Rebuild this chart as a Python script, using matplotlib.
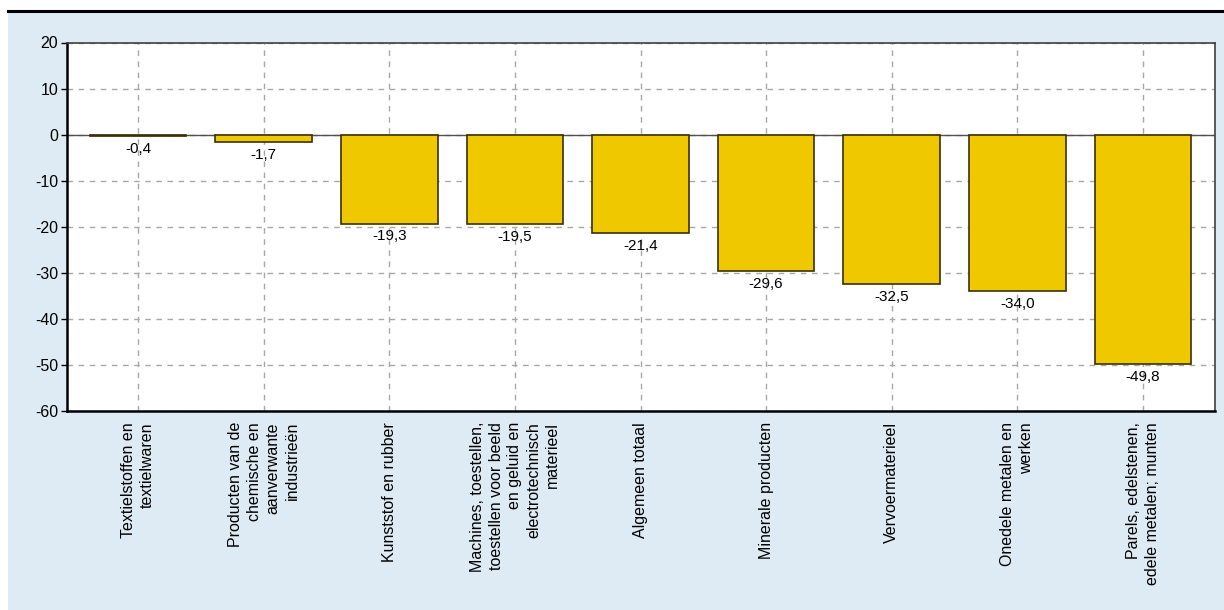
import matplotlib
matplotlib.use("Agg")
import matplotlib.pyplot as plt
from matplotlib.patches import Rectangle
from matplotlib.lines import Line2D

categories = [
    "Textielstoffen en\ntextielwaren",
    "Producten van de\nchemische en\naanverwante\nindustrieën",
    "Kunststof en rubber",
    "Machines, toestellen,\ntoestellen voor beeld\nen geluid en\nelectrotechnisch\nmaterieel",
    "Algemeen totaal",
    "Minerale producten",
    "Vervoermaterieel",
    "Onedele metalen en\nwerken",
    "Parels, edelstenen,\nedele metalen; munten",
]
values = [-0.4, -1.7, -19.3, -19.5, -21.4, -29.6, -32.5, -34.0, -49.8]
yticks = [20, 10, 0, -10, -20, -30, -40, -50, -60]

plt.rcParams["font.family"] = ["Liberation Sans", "DejaVu Sans"]
FS = 11.5

fig = plt.figure(figsize=(12.24, 6.10), dpi=100)
fig.patch.set_facecolor("white")
# light blue panel
fig.add_artist(Rectangle((8 / 1224, 0), 1 - 8 / 1224, 1 - 12 / 610,
                         transform=fig.transFigure, facecolor="#deebf4",
                         edgecolor="none", zorder=0))
# top black rule
fig.add_artist(Line2D([8 / 1224, 1], [1 - 11 / 610, 1 - 11 / 610],
                      transform=fig.transFigure, color="black", lw=2.2))

ax = fig.add_axes([66.5 / 1224, 1 - 411 / 610, (1214.5 - 66.5) / 1224, (411 - 42.5) / 610])
ax.set_facecolor("white")

x = list(range(len(categories)))
bars = ax.bar(x, values, width=0.77, color="#f0c800", edgecolor="#3a3000",
              linewidth=1.2, zorder=3)

ax.set_xlim(-0.57, len(categories) - 1 + 0.57)
ax.set_ylim(-60, 20)
ax.set_yticks(yticks)
ax.set_yticklabels([str(t) for t in yticks], fontsize=FS)
ax.set_xticks(x)
ax.set_xticklabels(categories, rotation=90, fontsize=FS, ha="center", va="top",
                   multialignment="right", linespacing=1.32)
ax.tick_params(axis="x", length=0, pad=8)
ax.tick_params(axis="y", length=4, width=1, pad=2, direction="out")

ax.grid(True, color="#a8a8a8", linestyle=(0, (4, 4)), linewidth=1, zorder=1)
ax.axhline(0, color="#505050", lw=1, zorder=2)

for s in ["left", "bottom"]:
    ax.spines[s].set_linewidth(1.8)
    ax.spines[s].set_color("black")
for s in ["top", "right"]:
    ax.spines[s].set_linewidth(1.2)
    ax.spines[s].set_color("#404040")

for xi, v in zip(x, values):
    ax.annotate(f"{v:.1f}".replace(".", ","), xy=(xi, v), xytext=(0, -4),
                textcoords="offset points", ha="center", va="top",
                fontsize=FS - 0.5, zorder=4)

fig.savefig("out.png", dpi=100)
